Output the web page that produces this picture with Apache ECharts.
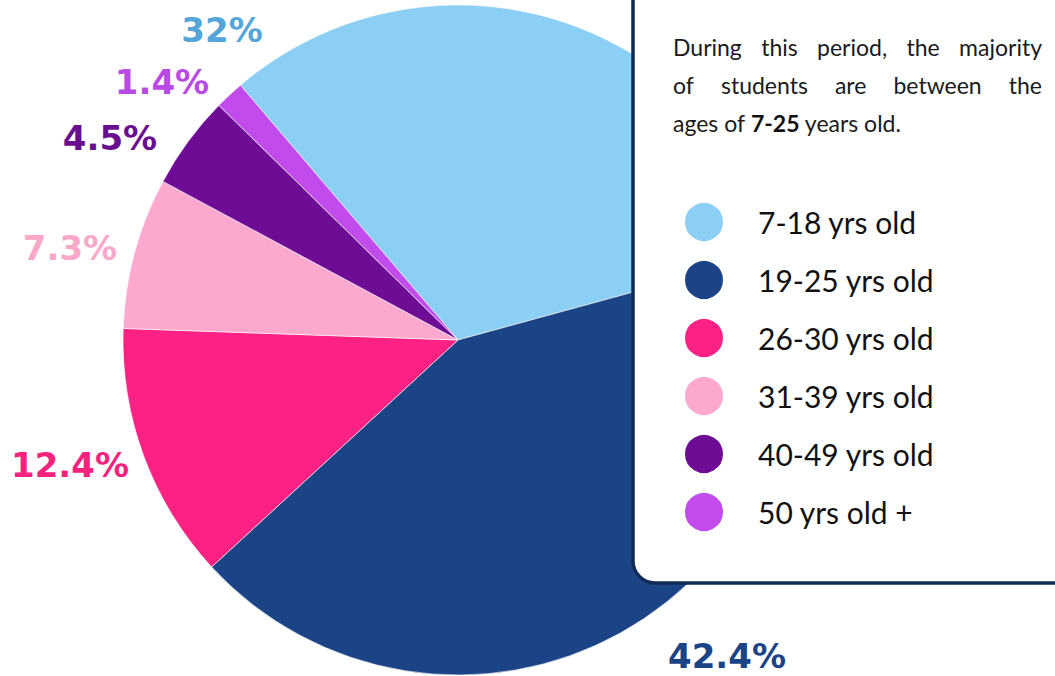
<!DOCTYPE html>
<html>
<head>
<meta charset="utf-8">
<script src="https://cdn.jsdelivr.net/npm/echarts@6/dist/echarts.min.js"></script>
<style>
html,body{margin:0;padding:0;background:#fff;}
#chart{width:1055px;height:676px;}
</style>
</head>
<body>
<div id="chart"></div>
<script>
// ---- data ----
const categories = ['7-18 yrs old', '19-25 yrs old', '26-30 yrs old', '31-39 yrs old', '40-49 yrs old', '50 yrs old +'];
const percents = [32, 42.4, 12.4, 7.3, 4.5, 1.4];
const percentLabels = ['32%', '42.4%', '12.4%', '7.3%', '4.5%', '1.4%'];
const noteLine1 = ['During', 'this', 'period,', 'the', 'majority'];
const noteLine2 = ['of', 'students', 'are', 'between', 'the'];

// ---- styles ----
const sliceColors = ['#8ccff5', '#1b4487', '#fd2184', '#fda9cf', '#6f0c96', '#c24ceb'];
const labelColors = ['#55a5d9', '#1b4487', '#f5237e', '#f9a8c8', '#6a0e90', '#b84ae6'];
// label anchor offsets from pie centre (px)
const labelOffsets = [[-236, -310], [269, 316], [-388, 125], [-388, -92], [-348, -202], [-296, -258]];
const CX = 458, CY = 340, R = 335;

const textFont = 'Lato';
const measure = document.createElement('canvas').getContext('2d');
function justifiedLine(words, y, x0, x1, size) {
  measure.font = size + 'px ' + textFont;
  const widths = words.map(w => measure.measureText(w).width);
  const total = widths.reduce((a, b) => a + b, 0);
  const gap = (x1 - x0 - total) / (words.length - 1);
  let x = x0;
  return words.map((w, i) => {
    const el = {
      type: 'text', x: x, y: y, z: 20,
      style: { text: w, fontSize: size, fontFamily: textFont, fill: '#1a1a1a', verticalAlign: 'middle', align: 'left' }
    };
    x += widths[i] + gap;
    return el;
  });
}

const chart = echarts.init(document.getElementById('chart'), null, { renderer: 'svg' });

const graphics = [
  {
    type: 'rect', z: 10,
    shape: { x: 633, y: -20, width: 460, height: 603, r: 22 },
    style: { fill: '#ffffff', stroke: '#0f2c57', lineWidth: 3.5 }
  },
  ...justifiedLine(noteLine1, 47, 673, 1042, 23),
  ...justifiedLine(noteLine2, 85, 673, 1042, 23),
  {
    type: 'text', x: 673, y: 123, z: 20,
    style: {
      text: 'ages of {b|7-25} years old.',
      fontSize: 23, fontFamily: textFont, fill: '#1a1a1a', verticalAlign: 'middle', align: 'left',
      rich: { b: { fontSize: 23, fontFamily: textFont, fontWeight: 'bold', fill: '#111' } }
    }
  }
];

chart.setOption({
  animation: false,
  backgroundColor: '#ffffff',
  graphic: graphics,
  legend: {
    orient: 'vertical',
    left: 683, top: 201,
    padding: 0,
    z: 30,
    icon: 'circle',
    itemWidth: 40, itemHeight: 40, itemGap: 16,
    selectedMode: false,
    data: categories,
    textStyle: { fontSize: 30, fontFamily: textFont, color: '#111', padding: [0, 0, 0, 29], lineHeight: 40 }
  },
  series: [{
    type: 'pie',
    center: [CX, CY],
    radius: [0, R],
    startAngle: 130.5,
    clockwise: true,
    avoidLabelOverlap: false,
    itemStyle: { borderColor: '#ffffff', borderWidth: 0.6 },
    labelLine: { show: false },
    label: {
      show: true,
      position: 'outside',
      fontFamily: 'DejaVu Sans',
      fontWeight: 'bold',
      fontSize: 34,
      lineHeight: 34,
      formatter: p => percentLabels[p.dataIndex]
    },
    labelLayout: p => {
      const o = labelOffsets[p.dataIndex];
      return { x: CX + o[0], y: CY + o[1], align: 'center', verticalAlign: 'middle' };
    },
    data: categories.map((c, i) => ({
      name: c, value: percents[i],
      itemStyle: { color: sliceColors[i] },
      label: { color: labelColors[i] }
    }))
  }]
});
</script>
</body>
</html>
